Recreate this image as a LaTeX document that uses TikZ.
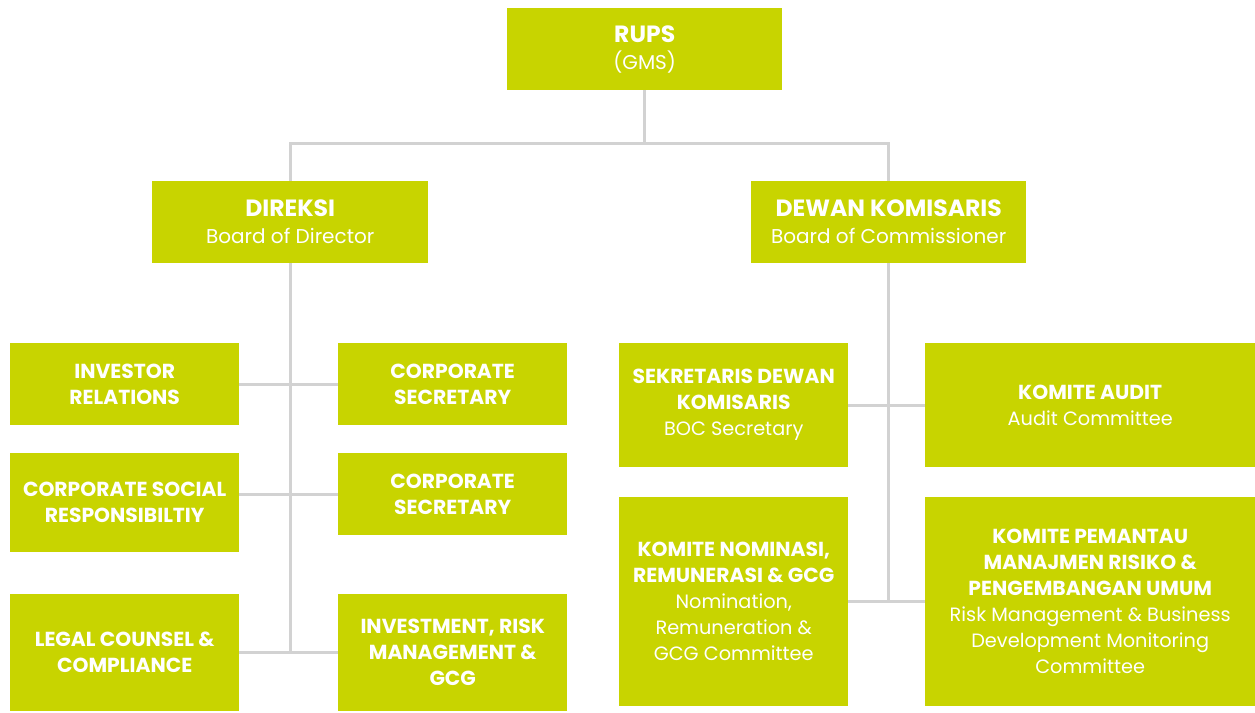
\documentclass[tikz,border=0pt]{standalone}
\usepackage{fontspec}
\setmainfont{Poppins}
\definecolor{boxgreen}{RGB}{200,212,0}
\definecolor{linegray}{RGB}{210,210,210}

\newcommand{\toptext}{\fontsize{20}{27}\selectfont}
\newcommand{\tophead}[1]{{\fontsize{23.5}{27}\selectfont\bfseries #1}}
\newcommand{\subtext}{\fontsize{19.3}{26}\selectfont}
\newcommand{\subhead}[1]{{\fontsize{20.3}{26}\selectfont\bfseries #1}}

\begin{document}
\begin{tikzpicture}[x=1pt,y=-1pt,
  unit/.style={fill=boxgreen, text=white, align=center, inner sep=0pt, anchor=north west},
  link/.style={draw=linegray, line width=3pt}]
  \useasboundingbox[fill=white] (0,0) rectangle (1255,712);

  % top levels
  \node[unit, minimum width=275pt, minimum height=82pt, font=\toptext] (rups) at (507,8)
    {\tophead{RUPS}\\(GMS)};
  \node[unit, minimum width=276pt, minimum height=82pt, font=\toptext] (dir) at (152,181)
    {\tophead{DIREKSI}\\Board of Director};
  \node[unit, minimum width=275pt, minimum height=82pt, font=\toptext] (dew) at (751,181)
    {\tophead{DEWAN KOMISARIS}\\Board of Commissioner};

  % under direksi
  \node[unit, minimum width=229pt, minimum height=82pt, font=\subtext] (inv) at (10,343)
    {\subhead{INVESTOR}\\\subhead{RELATIONS}};
  \node[unit, minimum width=229pt, minimum height=82pt, font=\subtext] (sec1) at (338,343)
    {\subhead{CORPORATE}\\\subhead{SECRETARY}};
  \node[unit, minimum width=229pt, minimum height=99pt, font=\subtext] (csr) at (10,453)
    {\subhead{CORPORATE SOCIAL}\\\subhead{RESPONSIBILTIY}};
  \node[unit, minimum width=229pt, minimum height=82pt, font=\subtext] (sec2) at (338,453)
    {\subhead{CORPORATE}\\\subhead{SECRETARY}};
  \node[unit, minimum width=229pt, minimum height=117pt, font=\subtext] (legal) at (10,594)
    {\subhead{LEGAL COUNSEL \&}\\\subhead{COMPLIANCE}};
  \node[unit, minimum width=229pt, minimum height=117pt, font=\subtext] (irm) at (338,594)
    {\subhead{INVESTMENT, RISK}\\\subhead{MANAGEMENT \&}\\\subhead{GCG}};

  % under dewan komisaris
  \node[unit, minimum width=229pt, minimum height=124pt, font=\subtext] (bocsec) at (619,343)
    {\subhead{SEKRETARIS DEWAN}\\\subhead{KOMISARIS}\\BOC Secretary};
  \node[unit, minimum width=330pt, minimum height=124pt, font=\subtext] (audit) at (925,343)
    {\subhead{KOMITE AUDIT}\\Audit Committee};
  \node[unit, minimum width=229pt, minimum height=209pt, font=\subtext] (nom) at (619,497)
    {\subhead{KOMITE NOMINASI,}\\\subhead{REMUNERASI \& GCG}\\Nomination,\\Remuneration \&\\GCG Committee};
  \node[unit, minimum width=330pt, minimum height=209pt, font=\subtext] (risk) at (925,497)
    {\subhead{KOMITE PEMANTAU}\\\subhead{MANAJMEN RISIKO \&}\\\subhead{PENGEMBANGAN UMUM}\\Risk Management \& Business\\Development Monitoring\\Committee};

  % connectors
  \draw[link] (rups.south) -- ++(0,53) coordinate (fork);
  \draw[link] (dir.north) |- (fork) -| (dew.north);
  \draw[link] (dir.south) -- (dir.south |- legal.east);
  \draw[link] (inv.east) -- (sec1.west);
  \draw[link] (csr.east |- sec2.west) -- (sec2.west);
  \draw[link] (legal.east) -- (irm.west);
  \draw[link] (dew.south) -- (dew.south |- nom.east);
  \draw[link] (bocsec.east) -- (audit.west);
  \draw[link] (nom.east) -- (risk.west);
\end{tikzpicture}
\end{document}
